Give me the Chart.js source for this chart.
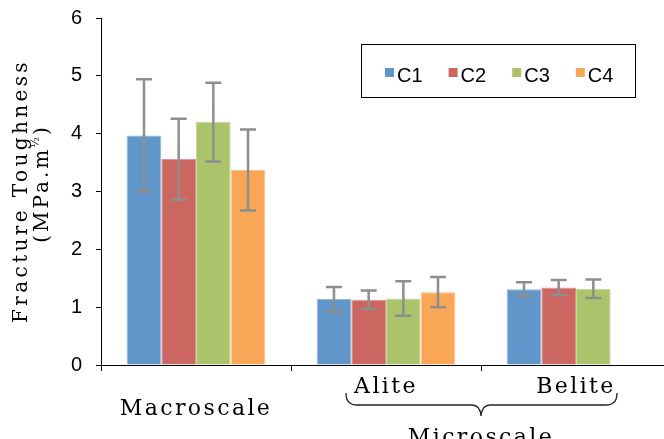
<!DOCTYPE html>
<html>
<head>
<meta charset="utf-8">
<script src="https://cdn.jsdelivr.net/npm/chart.js@4.4.0/dist/chart.umd.min.js"></script>
<style>
  html, body { margin: 0; padding: 0; background: #fff; overflow: hidden; }
  canvas { display: block; }
</style>
</head>
<body>
<canvas id="myChart" width="671" height="439"></canvas>
<script>
// categories and series values
const categories = [['', 'Macroscale'], 'Alite', 'Belite'];
const seriesNames = ['C1', 'C2', 'C3', 'C4'];

const c1 = [3.97, 1.14, 1.31];
const c2 = [3.56, 1.13, 1.34];
const c3 = [4.20, 1.15, 1.32];
const c4 = [3.37, 1.26, null];

// +/- error (standard deviation)
const c1Err = [0.97, 0.21, 0.12];
const c2Err = [0.70, 0.16, 0.13];
const c3Err = [0.68, 0.30, 0.16];
const c4Err = [0.70, 0.26, null];

const yTicks = [0, 1, 2, 3, 4, 5, 6];

const fills = ['#6096c9', '#cc6660', '#abc46c', '#f9a757'];
const edges = ['#8fb5dc', '#dd9490', '#c6d89b', '#fbc38e'];

const serif = '"DejaVu Serif", "Liberation Serif", serif';
const sans = '"Liberation Sans", Arial, sans-serif';

const values = [c1, c2, c3, c4];
const errors = [c1Err, c2Err, c3Err, c4Err];

const datasets = seriesNames.map((name, i) => ({
    label: name,
    data: values[i],
    err: errors[i],
    backgroundColor: fills[i],
    borderColor: edges[i],
    borderWidth: 1,
    categoryPercentage: 0.73,
    barPercentage: 1.0
}));

// x tick labels are letter-spaced in the original
const spacedLabels = {
    id: 'spacedLabels',
    beforeDraw(chart) {
        const xs = chart.scales.x;
        if (xs && !xs._spaced) {
            const orig = xs.drawLabels;
            xs.drawLabels = function (area) {
                this.ctx.save();
                this.ctx.letterSpacing = '2.4px';
                orig.call(this, area);
                this.ctx.restore();
            };
            xs._spaced = true;
        }
    }
};

// error bars drawn from the dataset values through the y scale
const errorBars = {
    id: 'errorBars',
    afterDatasetsDraw(chart) {
        const ctx = chart.ctx;
        const ys = chart.scales.y;
        ctx.save();
        ctx.strokeStyle = '#8e8e8e';
        ctx.lineWidth = 2.5;
        chart.data.datasets.forEach((ds, di) => {
            const meta = chart.getDatasetMeta(di);
            meta.data.forEach((bar, i) => {
                const v = ds.data[i];
                const e = ds.err[i];
                if (v == null || e == null) return;
                const top = ys.getPixelForValue(v + e);
                const bot = ys.getPixelForValue(v - e);
                const x = bar.x;
                ctx.beginPath();
                ctx.moveTo(x, top);
                ctx.lineTo(x, bot);
                ctx.moveTo(x - 8, top);
                ctx.lineTo(x + 8, top);
                ctx.moveTo(x - 8, bot);
                ctx.lineTo(x + 8, bot);
                ctx.stroke();
            });
        });
        ctx.restore();
    }
};

// boxed legend inside the plot, y title with superscript, brace + "Microscale"
const decorations = {
    id: 'decorations',
    afterDraw(chart) {
        const ctx = chart.ctx;
        const xs = chart.scales.x;

        // legend
        ctx.save();
        ctx.strokeStyle = '#000';
        ctx.lineWidth = 1;
        ctx.strokeRect(361.5, 44.5, 274, 53);
        ctx.font = '20px ' + sans;
        ctx.textBaseline = 'alphabetic';
        chart.data.datasets.forEach((ds, i) => {
            const x = 385 + i * 63.6;
            ctx.fillStyle = ds.backgroundColor;
            ctx.fillRect(x, 68, 9, 9);
            ctx.fillStyle = '#000';
            ctx.fillText(ds.label, x + 12, 82);
        });
        ctx.restore();

        // y axis title
        ctx.save();
        ctx.fillStyle = '#000';
        ctx.font = '20px ' + serif;
        ctx.letterSpacing = '3.4px';
        ctx.translate(27, 191);
        ctx.rotate(-Math.PI / 2);
        ctx.textAlign = 'center';
        ctx.fillText('Fracture Toughness', 0, 0);
        ctx.restore();

        ctx.save();
        ctx.fillStyle = '#000';
        ctx.translate(48, 183);
        ctx.rotate(-Math.PI / 2);
        ctx.textAlign = 'left';
        ctx.font = '20px ' + serif;
        ctx.letterSpacing = '3px';
        const a = '(MPa.m', b = ')';
        const wa = ctx.measureText(a).width;
        const wb = ctx.measureText(b).width;
        ctx.font = '11px ' + serif;
        ctx.letterSpacing = '0px';
        const ws = ctx.measureText('½').width;
        const x0 = -(wa + ws + wb + 2) / 2;
        ctx.font = '20px ' + serif;
        ctx.letterSpacing = '3px';
        ctx.fillText(a, x0, 0);
        ctx.font = '11px ' + serif;
        ctx.letterSpacing = '0px';
        ctx.fillText('½', x0 + wa - 1, -9);
        ctx.font = '20px ' + serif;
        ctx.letterSpacing = '3px';
        ctx.fillText(b, x0 + wa + ws + 1, 0);
        ctx.restore();

        // brace under Alite / Belite
        const left = xs.getPixelForValue(1) - 40;
        const right = xs.getPixelForValue(2) + 41;
        const mid = xs.getPixelForValue(1.5);
        const yTop = 393, yLine = 405, yTip = 416;
        ctx.save();
        ctx.strokeStyle = '#222';
        ctx.lineWidth = 1.3;
        ctx.beginPath();
        ctx.moveTo(left, yTop);
        ctx.quadraticCurveTo(left, yLine, left + 11, yLine);
        ctx.lineTo(mid - 9, yLine);
        ctx.quadraticCurveTo(mid - 1, yLine, mid, yTip);
        ctx.quadraticCurveTo(mid + 1, yLine, mid + 9, yLine);
        ctx.lineTo(right - 11, yLine);
        ctx.quadraticCurveTo(right, yLine, right, yTop);
        ctx.stroke();

        ctx.fillStyle = '#000';
        ctx.font = '22px ' + serif;
        ctx.letterSpacing = '2.4px';
        ctx.textAlign = 'center';
        ctx.textBaseline = 'alphabetic';
        ctx.fillText('Microscale', mid, 444);
        ctx.restore();
    }
};

const myChart = new Chart(document.getElementById('myChart'), {
    type: 'bar',
    data: {
        labels: categories,
        datasets: datasets
    },
    options: {
        responsive: false,
        animation: false,
        layout: { padding: { top: 18, left: 0, right: 0, bottom: 0 } },
        plugins: {
            legend: { display: false },
            tooltip: { enabled: false }
        },
        scales: {
            x: {
                grid: {
                    offset: true,
                    drawOnChartArea: false,
                    tickLength: 6,
                    tickColor: '#000'
                },
                border: { color: '#000', width: 1 },
                ticks: {
                    color: '#000',
                    padding: 5,
                    maxRotation: 0,
                    autoSkip: false,
                    font: { family: serif, size: 22, lineHeight: 1.0 }
                },
                afterFit: (scale) => {
                    scale.height = 74;
                    scale.paddingLeft = 0;
                    scale.paddingRight = 0;
                }
            },
            y: {
                min: 0,
                max: 6,
                afterBuildTicks: (scale) => { scale.ticks = yTicks.map(v => ({ value: v })); },
                grid: {
                    drawOnChartArea: false,
                    tickLength: 5,
                    tickColor: '#000'
                },
                border: { color: '#000', width: 1 },
                ticks: {
                    color: '#000',
                    padding: 14,
                    font: { family: sans, size: 20 }
                },
                afterFit: (scale) => {
                    scale.width = 101;
                    scale.paddingTop = 0;
                    scale.paddingBottom = 0;
                }
            }
        }
    },
    plugins: [spacedLabels, errorBars, decorations]
});
</script>
</body>
</html>
